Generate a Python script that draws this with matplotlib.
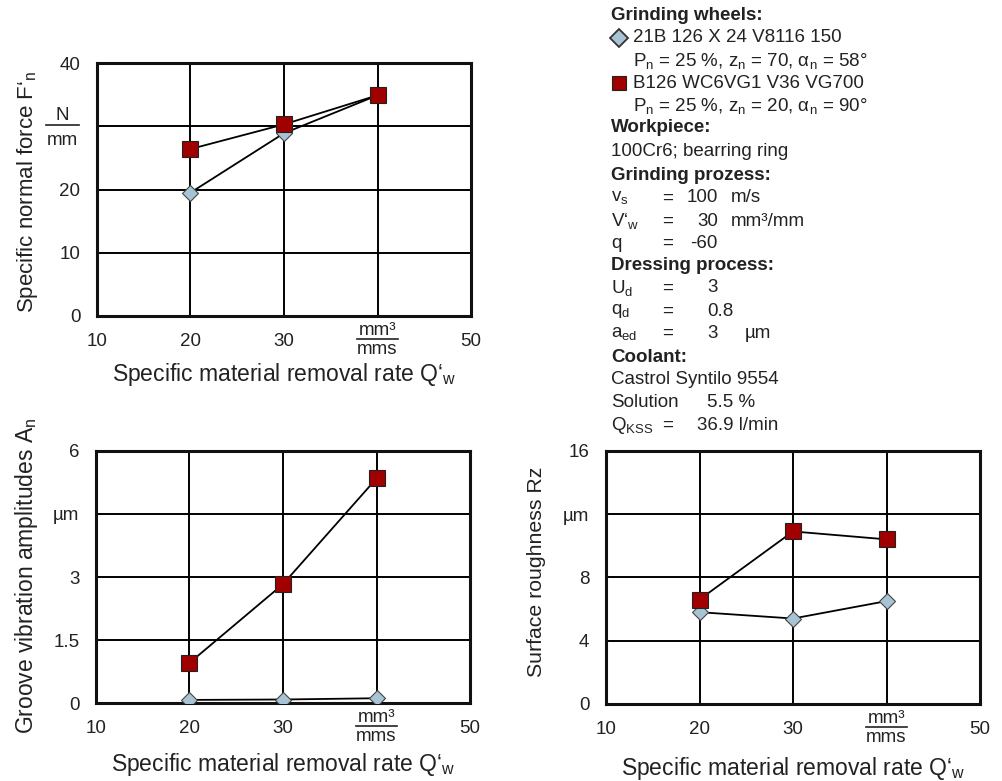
import matplotlib
matplotlib.use("Agg")
import matplotlib.pyplot as plt
from matplotlib.lines import Line2D

plt.rcParams['font.family'] = ['Liberation Sans', 'DejaVu Sans']
plt.rcParams['mathtext.fontset'] = 'custom'
plt.rcParams['mathtext.rm'] = 'Liberation Sans'
plt.rcParams['mathtext.it'] = 'Liberation Sans:italic'
plt.rcParams['mathtext.bf'] = 'Liberation Sans:bold'

# ---------------- data ----------------
q_w = [20, 30, 40]
force_conv = [19.5, 28.9, 34.9]      # 21B 126 X 24 V8116 150
force_struct = [26.4, 30.3, 34.9]    # B126 WC6VG1 V36 VG700
vib_conv = [0.08, 0.09, 0.12]
vib_struct = [0.96, 2.83, 5.34]
rz_conv = [5.8, 5.4, 6.5]
rz_struct = [6.6, 10.9, 10.4]

x_ticks = [10, 20, 30, 40, 50]
x_labels = ['10', '20', '30', '', '50']
x_unit = ('mm³', 'mms')
force_ticks = [0, 10, 20, 30, 40]
force_labels = ['0', '10', '20', '', '40']
force_unit = ('N', 'mm')
vib_ticks = [0, 1.5, 3, 4.5, 6]
vib_labels = ['0', '1.5', '3', 'µm', '6']
rz_ticks = [0, 4, 8, 12, 16]
rz_labels = ['0', '4', '8', 'µm', '16']

RED = '#a00000'
BLUE = '#a8c3d4'
TXT = '#222222'
TICK_FS = 13.5

fig = plt.figure(figsize=(10.03, 7.81), dpi=100)

def fraction(ax, xc, y_num, y_line, y_den, half_w, num, den):
    kw = dict(transform=ax.transAxes, ha='center', va='baseline', fontsize=TICK_FS,
              color=TXT, clip_on=False)
    ax.text(xc, y_num, num, **kw)
    ax.text(xc, y_den, den, **kw)
    ax.add_line(Line2D([xc - half_w, xc + half_w], [y_line, y_line], transform=ax.transAxes,
                       color=TXT, lw=1.2, clip_on=False))

def make_ax(rect, yticks, ylabels, ylabel, ylab_fs, ylab_y, xlab_y, conv, struct, yunit=None):
    ax = fig.add_axes(rect)
    ax.set_xlim(10, 50)
    ax.set_ylim(yticks[0], yticks[-1])
    ax.set_xticks(x_ticks)
    ax.set_xticklabels(x_labels)
    ax.set_yticks(yticks)
    ax.set_yticklabels(ylabels)
    ax.tick_params(length=0, labelsize=TICK_FS, labelcolor=TXT, pad=12)
    ax.grid(True, color='black', lw=1.4)
    ax.set_axisbelow(True)
    for s in ax.spines.values():
        s.set_linewidth(2.2)
        s.set_color('#111111')
    ax.plot(q_w, conv, color='black', lw=1.3, marker='D', markersize=8.5,
            markerfacecolor=BLUE, markeredgecolor='#444444', markeredgewidth=0.8, zorder=3)
    ax.plot(q_w, struct, color='black', lw=1.3, marker='s', markersize=11.5,
            markerfacecolor=RED, markeredgecolor='#222222', markeredgewidth=0.8, zorder=4)
    ax.set_ylabel(ylabel, fontsize=ylab_fs, color=TXT, va='center')
    ax.yaxis.set_label_coords(-0.187, ylab_y)
    ax.set_xlabel('Specific material removal rate Q\u2018$_\\mathrm{w}$', fontsize=16.5,
                  color=TXT, va='center')
    ax.xaxis.set_label_coords(0.5, xlab_y)
    # unit fraction in place of the 40 x tick label
    fraction(ax, 0.75, -0.075, -0.090, -0.150, 0.054, *x_unit)
    if yunit is not None:
        fraction(ax, -0.092, 0.775, 0.755, 0.676, 0.044, *yunit)
    return ax

make_ax([0.0967, 0.5954, 0.3729, 0.3239], force_ticks, force_labels,
        'Specific normal force F\u2018$_\\mathrm{n}$', 16, 0.49, -0.233, force_conv, force_struct,
        yunit=force_unit)
make_ax([0.0957, 0.0995, 0.3729, 0.3234], vib_ticks, vib_labels,
        'Groove vibration amplitudes A$_\\mathrm{n}$', 16.5, 0.505, -0.244, vib_conv, vib_struct)
make_ax([0.6042, 0.0986, 0.3729, 0.3243], rz_ticks, rz_labels,
        'Surface roughness Rz', 15.3, 0.52, -0.253, rz_conv, rz_struct)

# ---------------- parameter text panel ----------------
W, H = 1003.0, 781.0
def t(xp, yp, s, bold=False, size=13.5):
    fig.text(xp / W, 1 - yp / H, s, fontsize=size, color=TXT, va='center', ha='left',
             fontweight='bold' if bold else 'normal')

x0 = 611
t(x0, 16, 'Grinding wheels:', bold=True)
fig.add_artist(Line2D([619 / W], [1 - 38 / H], marker='D', markersize=9, markerfacecolor=BLUE,
                      markeredgecolor='#333333', markeredgewidth=1.3, transform=fig.transFigure))
t(633, 38, '21B 126 X 24 V8116 150')
t(633, 61, 'P$_\\mathrm{n}$ = 25 %, z$_\\mathrm{n}$ = 70, \u03b1$_\\mathrm{n}$ = 58°')
fig.add_artist(Line2D([619 / W], [1 - 83 / H], marker='s', markersize=10, markerfacecolor=RED,
                      markeredgecolor='#222222', markeredgewidth=0.8, transform=fig.transFigure))
t(633, 83, 'B126 WC6VG1 V36 VG700')
t(633, 106, 'P$_\\mathrm{n}$ = 25 %, z$_\\mathrm{n}$ = 20, \u03b1$_\\mathrm{n}$ = 90°')
t(x0, 128, 'Workpiece:', bold=True)
t(x0, 152, '100Cr6; bearring ring')
t(x0, 175, 'Grinding prozess:', bold=True)
eq = 662
t(x0, 198, 'v$_\\mathrm{s}$'); t(eq, 198, '='); t(687, 198, '100'); t(731, 198, 'm/s')
t(x0, 221, 'V\u2018$_\\mathrm{w}$'); t(eq, 221, '='); t(697, 221, '30'); t(731, 221, 'mm³/mm')
t(x0, 243, 'q'); t(eq, 243, '='); t(690, 243, '-60')
t(x0, 265, 'Dressing process:', bold=True)
t(x0, 288, 'U$_\\mathrm{d}$'); t(eq, 288, '='); t(707, 288, '3')
t(x0, 311, 'q$_\\mathrm{d}$'); t(eq, 311, '='); t(707, 311, '0.8')
t(x0, 333, 'a$_\\mathrm{ed}$'); t(eq, 333, '='); t(707, 333, '3'); t(745, 333, 'µm')
t(x0, 357, 'Coolant:', bold=True)
t(x0, 380, 'Castrol Syntilo 9554')
t(x0, 402, 'Solution'); t(707, 402, '5.5 %')
t(x0, 425, 'Q$_\\mathrm{KSS}$'); t(eq, 425, '='); t(697, 425, '36.9 l/min')

fig.savefig('out.png', dpi=100)
